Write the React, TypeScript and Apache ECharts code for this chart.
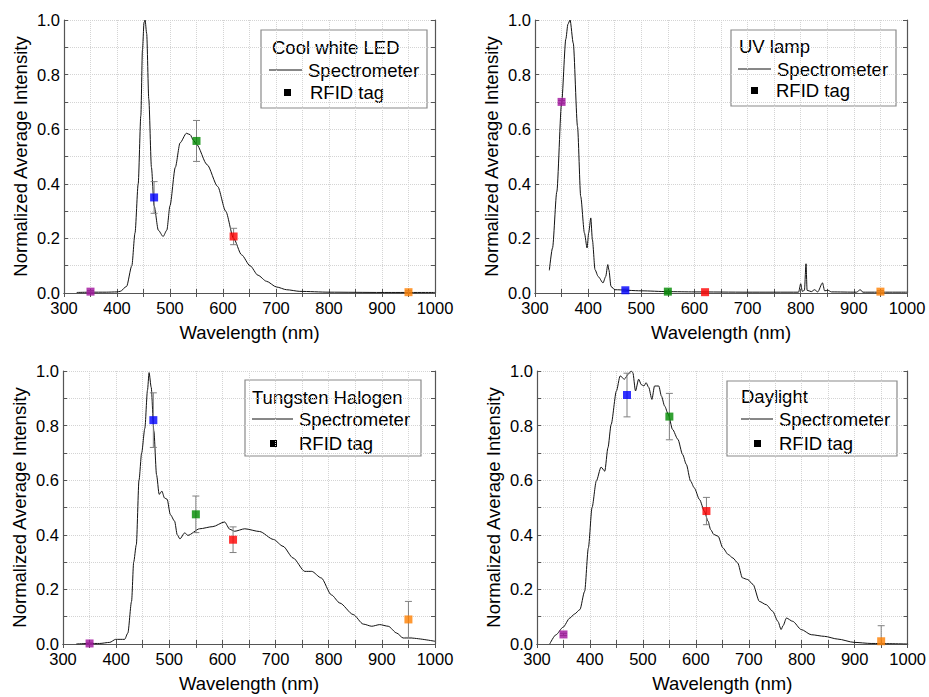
import React, { useEffect, useRef } from "react";
import * as echarts from "echarts";

const TAG_WAVELENGTHS = [350, 470, 550, 620, 950];
const TAG_COLORS = ["#a0109c", "#0000ff", "#008a00", "#ff0000", "#ff8000"];

const X_TICKS = [300, 400, 500, 600, 700, 800, 900, 1000];
const Y_TICKS = [0.0, 0.2, 0.4, 0.6, 0.8, 1.0];

const coolSpectrum = [
  [324, 0.002], [350, 0.003], [380, 0.003], [400, 0.004], [406, 0.006], [418, 0.024], [428, 0.1],
  [434, 0.22], [440, 0.4], [445, 0.65], [448, 0.89], [451, 0.99], [453, 1.0], [456, 0.95],
  [460, 0.71], [465, 0.46], [470, 0.32], [478, 0.23], [487, 0.207], [494, 0.23], [500, 0.32],
  [510, 0.46], [519, 0.55], [531, 0.585], [538, 0.58], [544, 0.56], [550, 0.545], [570, 0.47],
  [590, 0.39], [605, 0.3], [620, 0.2], [635, 0.14], [651, 0.1], [666, 0.065], [682, 0.043], [701, 0.022],
  [720, 0.012], [745, 0.006], [800, 0.003], [900, 0.002], [1000, 0.002],
];
const coolTag = [0.005, 0.35, 0.557, 0.207, 0.003];
const coolErr = [0.004, 0.058, 0.075, 0.03, 0.005];

const uvSpectrum = [
  [327, 0.083], [333, 0.165], [341, 0.37], [350, 0.695], [358, 0.93], [362, 0.985], [366, 1.0],
  [372, 0.915], [380, 0.61], [386, 0.354], [393, 0.22], [398, 0.165], [401, 0.22], [405, 0.275],
  [408, 0.195], [413, 0.085], [419, 0.06], [428, 0.037], [433, 0.06], [437, 0.104], [439, 0.085],
  [443, 0.024], [450, 0.012], [500, 0.008], [550, 0.005], [600, 0.004], [700, 0.003], [796, 0.003],
  [800, 0.034], [803, 0.006], [807, 0.01], [810, 0.107], [812, 0.01], [820, 0.005], [826, 0.012], [832, 0.004],
  [841, 0.037], [845, 0.008], [851, 0.01], [858, 0.004], [905, 0.003], [912, 0.012], [917, 0.003],
  [1000, 0.003],
];
const uvTag = [0.7, 0.01, 0.005, 0.003, 0.005];
const uvErr = [0.005, 0.004, 0.003, 0.003, 0.004];

const tungstenSpectrum = [
  [325, 0.0], [350, 0.002], [369, 0.002], [388, 0.006], [399, 0.017], [416, 0.017], [422, 0.04],
  [429, 0.156], [433, 0.3], [438, 0.364], [443, 0.6], [448, 0.7], [454, 0.79], [459, 0.93],
  [462, 0.994], [466, 0.94], [471, 0.78], [476, 0.62], [481, 0.548], [486, 0.56], [491, 0.535],
  [496, 0.53], [502, 0.474], [510, 0.45], [515, 0.4], [520, 0.385], [529, 0.407], [535, 0.398],
  [557, 0.422], [582, 0.43], [604, 0.447], [614, 0.42], [623, 0.413], [642, 0.422], [670, 0.412],
  [696, 0.383], [714, 0.358], [733, 0.315], [755, 0.266], [768, 0.266], [786, 0.242], [805, 0.18],
  [821, 0.15], [846, 0.108], [865, 0.073], [881, 0.065], [896, 0.071], [912, 0.065], [928, 0.04],
  [940, 0.022], [953, 0.022], [1000, 0.01],
];
const tungstenTag = [0.002, 0.82, 0.475, 0.382, 0.09];
const tungstenErr = [0.002, 0.1, 0.067, 0.047, 0.066];

const daylightSpectrum = [
  [324, 0.0], [336, 0.034], [349, 0.061], [362, 0.095], [371, 0.11], [381, 0.126], [390, 0.193],
  [397, 0.352], [404, 0.5], [412, 0.597], [421, 0.648], [428, 0.633], [434, 0.719], [440, 0.804],
  [450, 0.927], [457, 0.982], [465, 0.97], [473, 0.99], [478, 1.0], [481, 0.994], [486, 0.927],
  [492, 0.97], [497, 0.95], [502, 0.945], [506, 0.957], [511, 0.94], [517, 0.896], [522, 0.945],
  [530, 0.945], [535, 0.908], [541, 0.872], [548, 0.841], [556, 0.786], [566, 0.75], [575, 0.694],
  [582, 0.658], [590, 0.597], [597, 0.572], [607, 0.529], [616, 0.487], [623, 0.45], [628, 0.419],
  [634, 0.401], [642, 0.395], [651, 0.352], [661, 0.328], [670, 0.315], [679, 0.297], [688, 0.242],
  [698, 0.236], [708, 0.218], [720, 0.156], [733, 0.144], [745, 0.12], [755, 0.083], [761, 0.053],
  [765, 0.068], [771, 0.095], [783, 0.083], [799, 0.053], [818, 0.034], [843, 0.028], [868, 0.018],
  [899, 0.006], [931, 0.002], [1000, 0.0],
];
const daylightTag = [0.035, 0.912, 0.833, 0.487, 0.01];
const daylightErr = [0.004, 0.08, 0.085, 0.05, 0.057];

const FONT = "Arial, 'Liberation Sans', sans-serif";

const PANELS = [
  {
    title: "Cool white LED", spectrum: coolSpectrum, tag: coolTag, err: coolErr,
    grid: { left: 64, top: 20, width: 371, height: 273 },
    legend: { x: 261, y: 30, w: 166, h: 78, titleX: 272, titleY: 47, lineX1: 269, lineX2: 302, lineY: 70, textX: 308, sqX: 284, sqY: 89, tagTextX: 310 },
  },
  {
    title: "UV lamp", spectrum: uvSpectrum, tag: uvTag, err: uvErr,
    grid: { left: 535, top: 20, width: 372, height: 273 },
    legend: { x: 731, y: 30, w: 165, h: 76, titleX: 739, titleY: 46, lineX1: 738, lineX2: 771, lineY: 69, textX: 777, sqX: 751, sqY: 87, tagTextX: 776 },
  },
  {
    title: "Tungsten Halogen", spectrum: tungstenSpectrum, tag: tungstenTag, err: tungstenErr,
    grid: { left: 63, top: 371, width: 372, height: 273 },
    legend: { x: 245, y: 380, w: 176, h: 76, titleX: 252, titleY: 397, lineX1: 252, lineX2: 293, lineY: 419, textX: 299, sqX: 270, sqY: 440, tagTextX: 299 },
  },
  {
    title: "Daylight", spectrum: daylightSpectrum, tag: daylightTag, err: daylightErr,
    grid: { left: 537, top: 371, width: 371, height: 273 },
    legend: { x: 727, y: 381, w: 170, h: 75, titleX: 741, titleY: 396, lineX1: 741, lineX2: 773, lineY: 419, textX: 779, sqX: 754, sqY: 440, tagTextX: 779 },
  },
];

const AXIS_COLOR = "#555";
const GRID_COLOR = "#d4d4d4";

function buildOption() {
  const grids: any[] = [];
  const xAxes: any[] = [];
  const yAxes: any[] = [];
  const series: any[] = [];
  const graphics: any[] = [];

  PANELS.forEach((p, i) => {
    grids.push({ ...p.grid, containLabel: false });
    const tickCommon = {
      axisLine: { show: true, lineStyle: { color: AXIS_COLOR, width: 1.2 } },
      axisTick: { show: true, inside: true, length: 4, lineStyle: { color: AXIS_COLOR } },
      minorTick: { show: true, splitNumber: 2, length: 4, lineStyle: { color: AXIS_COLOR } },
    };
    xAxes.push({
      type: "value", gridIndex: i, position: "bottom", min: X_TICKS[0], max: X_TICKS[X_TICKS.length - 1], interval: 100,
      ...tickCommon,
      axisLabel: { color: "#000", fontSize: 16.5, fontFamily: FONT, margin: 6, formatter: (v: number) => String(v) },
      splitLine: { show: true, lineStyle: { color: GRID_COLOR, type: "dotted" } },
      minorSplitLine: { show: true, lineStyle: { color: GRID_COLOR, type: "dotted" } },
      name: "Wavelength (nm)", nameLocation: "middle", nameGap: 30,
      nameTextStyle: { color: "#000", fontSize: 18.5, fontFamily: FONT },
    });
    xAxes.push({
      type: "value", gridIndex: i, position: "top", min: X_TICKS[0], max: X_TICKS[X_TICKS.length - 1], interval: 100,
      ...tickCommon,
      axisLabel: { show: false }, splitLine: { show: false },
    });
    yAxes.push({
      type: "value", gridIndex: i, position: "left", min: Y_TICKS[0], max: Y_TICKS[Y_TICKS.length - 1], interval: 0.2,
      ...tickCommon,
      axisLabel: { color: "#000", fontSize: 16.5, fontFamily: FONT, margin: 4, formatter: (v: number) => v.toFixed(1) },
      splitLine: { show: true, lineStyle: { color: GRID_COLOR, type: "dotted" } },
      minorSplitLine: { show: true, lineStyle: { color: GRID_COLOR, type: "dotted" } },
      name: "Normalized Average Intensity", nameLocation: "middle", nameGap: 34,
      nameTextStyle: { color: "#000", fontSize: 18.5, fontFamily: FONT },
    });
    yAxes.push({
      type: "value", gridIndex: i, position: "right", min: Y_TICKS[0], max: Y_TICKS[Y_TICKS.length - 1], interval: 0.2,
      ...tickCommon,
      axisLabel: { show: false }, splitLine: { show: false },
    });

    const xi = i * 2;
    const yi = i * 2;
    series.push({
      name: "Spectrometer", type: "line", xAxisIndex: xi, yAxisIndex: yi,
      data: p.spectrum, symbol: "none", smooth: 0.25, smoothMonotone: "x",
      lineStyle: { color: "#111", width: 1 }, z: 3,
    });
    series.push({
      name: "RFID error", type: "custom", xAxisIndex: xi, yAxisIndex: yi,
      data: TAG_WAVELENGTHS.map((w, k) => [w, p.tag[k], p.err[k]]),
      renderItem: (params: any, api: any) => {
        const x = api.value(0), y = api.value(1), e = api.value(2);
        const hi = api.coord([x, Math.min(1, y + e)]);
        const lo = api.coord([x, Math.max(0, y - e)]);
        const cap = 3.5;
        const st = { stroke: "#808080", lineWidth: 1 };
        return {
          type: "group",
          children: [
            { type: "line", shape: { x1: hi[0], y1: hi[1], x2: lo[0], y2: lo[1] }, style: st },
            { type: "line", shape: { x1: hi[0] - cap, y1: hi[1], x2: hi[0] + cap, y2: hi[1] }, style: st },
            { type: "line", shape: { x1: lo[0] - cap, y1: lo[1], x2: lo[0] + cap, y2: lo[1] }, style: st },
          ],
        };
      },
      z: 4,
    });
    series.push({
      name: "RFID tag", type: "scatter", xAxisIndex: xi, yAxisIndex: yi,
      symbol: "rect", symbolSize: 8,
      data: TAG_WAVELENGTHS.map((w, k) => ({ value: [w, p.tag[k]], itemStyle: { color: TAG_COLORS[k] } })),
      itemStyle: { color: "#000" }, z: 5,
    });

    const L = p.legend;
    graphics.push({
      type: "group", z: 100,
      children: [
        { type: "rect", shape: { x: L.x, y: L.y, width: L.w, height: L.h }, style: { fill: "#fff", stroke: "#8a8a8a", lineWidth: 1.2 } },
        { type: "text", x: L.titleX, y: L.titleY, style: { text: p.title, fill: "#000", fontSize: 18.5, fontFamily: FONT, verticalAlign: "middle" } },
        { type: "line", shape: { x1: L.lineX1, y1: L.lineY, x2: L.lineX2, y2: L.lineY }, style: { stroke: "#111", lineWidth: 1 } },
        { type: "text", x: L.textX, y: L.lineY, style: { text: "Spectrometer", fill: "#000", fontSize: 18.5, fontFamily: FONT, verticalAlign: "middle" } },
        { type: "rect", shape: { x: L.sqX, y: L.sqY, width: 7, height: 7 }, style: { fill: "#000", stroke: null } },
        { type: "text", x: L.tagTextX, y: L.sqY + 3.5, style: { text: "RFID tag", fill: "#000", fontSize: 18.5, fontFamily: FONT, verticalAlign: "middle" } },
      ],
    });
  });

  return {
    animation: false,
    backgroundColor: "#fff",
    grid: grids,
    xAxis: xAxes,
    yAxis: yAxes,
    series,
    graphic: graphics,
  };
}

export default function App() {
  const ref = useRef<HTMLDivElement>(null);
  useEffect(() => {
    document.body.style.margin = "0";
    if (!ref.current) return;
    const chart = echarts.init(ref.current, null, { renderer: "svg" });
    chart.setOption(buildOption() as any);
    return () => chart.dispose();
  }, []);
  return <div ref={ref} style={{ width: 929, height: 697 }} />;
}
